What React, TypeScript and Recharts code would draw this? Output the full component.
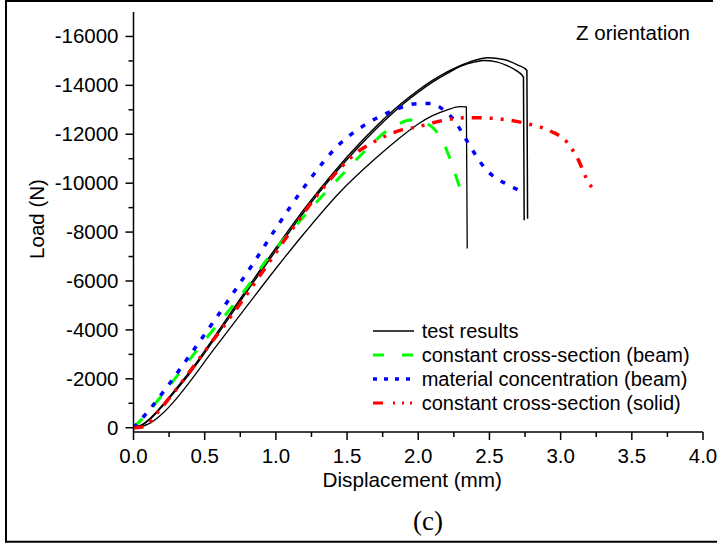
import { LineChart, Line, XAxis, YAxis, Legend, Label } from 'recharts';

// tick positions (majors get labels, the rest are minor ticks)
const xTicks = [0, 0.25, 0.5, 0.75, 1, 1.25, 1.5, 1.75, 2, 2.25, 2.5, 2.75, 3, 3.25, 3.5, 3.75, 4];
const yTicks = [0, -1000, -2000, -3000, -4000, -5000, -6000, -7000, -8000, -9000, -10000, -11000, -12000, -13000, -14000, -15000, -16000];

// test results, specimen A (highest peak)
const testAX = [0, 0.05, 0.12, 0.2, 0.3, 0.4, 0.6, 0.8, 1.0, 1.2, 1.4, 1.6, 1.8, 1.9, 2.0, 2.1, 2.2, 2.35, 2.49, 2.6, 2.7, 2.763, 2.768];
const testAY = [0, -90, -400, -900, -1600, -2330, -3990, -5700, -7350, -8950, -10400, -11700, -12850, -13350, -13800, -14200, -14540, -14930, -15130, -15060, -14830, -14610, -8550];

// test results, specimen B
const testBX = [0, 0.05, 0.12, 0.2, 0.3, 0.4, 0.6, 0.8, 1.0, 1.2, 1.4, 1.6, 1.8, 1.9, 2.0, 2.1, 2.2, 2.3, 2.4, 2.46, 2.55, 2.62, 2.7, 2.739, 2.744];
const testBY = [0, -80, -370, -860, -1540, -2260, -3900, -5600, -7240, -8840, -10300, -11600, -12760, -13270, -13720, -14130, -14480, -14790, -14960, -15020, -14960, -14816, -14560, -14340, -8485];

// test results, specimen C (lowest)
const testCX = [0, 0.05, 0.12, 0.2, 0.3, 0.35, 0.56, 0.8, 1.0, 1.217, 1.451, 1.685, 1.85, 2.0, 2.1, 2.2, 2.294, 2.338, 2.344];
const testCY = [0, -40, -200, -560, -1180, -1540, -3170, -5000, -6510, -8076, -9640, -10936, -11760, -12420, -12760, -12990, -13130, -13120, -7330];

// constant cross-section (beam)
const beamX = [0, 0.05, 0.21, 0.35, 0.5, 0.655, 0.8, 0.94, 1.1, 1.29, 1.45, 1.64, 1.78, 1.86, 1.95, 2.02, 2.09, 2.154, 2.19, 2.247, 2.306, 2.32];
const beamY = [0, -300, -1400, -2450, -3580, -4680, -5760, -6900, -8000, -9250, -10250, -11400, -12150, -12420, -12580, -12500, -12330, -11890, -11480, -10600, -9580, -9370];

// material concentration (beam)
const concX = [0, 0.1, 0.233, 0.4, 0.54, 0.7, 0.85, 1.0, 1.217, 1.451, 1.639, 1.826, 1.99, 2.084, 2.166, 2.247, 2.306, 2.353, 2.412, 2.47, 2.54, 2.623, 2.716];
const concY = [0, -650, -1650, -3000, -4150, -5500, -6800, -8150, -9984, -11618, -12435, -12978, -13250, -13260, -13050, -12610, -12090, -11618, -11070, -10597, -10230, -9955, -9682];

// constant cross-section (solid)
const solidX = [0, 0.06, 0.1, 0.16, 0.28, 0.5, 0.725, 0.912, 1.098, 1.31, 1.59, 1.709, 1.873, 1.99, 2.177, 2.342, 2.482, 2.646, 2.763, 2.927, 3.044, 3.114, 3.208, 3.225];
const solidY = [0, -30, -150, -560, -1420, -3120, -4880, -6420, -7980, -9650, -11345, -11753, -12161, -12296, -12570, -12680, -12664, -12570, -12435, -12133, -11683, -11070, -9914, -9800];

const legendItems = [
  { name: 'test results', color: '#000000', width: 1.5, dash: undefined },
  { name: 'constant cross-section (beam)', color: '#00ff00', width: 3, dash: '11 18' },
  { name: 'material concentration (beam)', color: '#0000ff', width: 3.5, dash: '4 7' },
  { name: 'constant cross-section (solid)', color: '#ff0000', width: 3, dash: '10 10 2 7 2 6 2 10' },
];

const toPoints = (xs: number[], ys: number[]) => xs.map((x, i) => ({ x, y: ys[i] }));

const font = '"Liberation Sans", Arial, sans-serif';
const isMajorX = (v: number) => Math.abs(v * 2 - Math.round(v * 2)) < 1e-6;
const isMajorY = (v: number) => v % 2000 === 0;

const BottomTick = ({ x, y, payload }: any) => {
  const major = isMajorX(payload.value);
  return (
    <g>
      <line x1={x} x2={x} y1={y} y2={y + (major ? 8 : 5)} stroke="#000" strokeWidth={1.5} />
      {major && (
        <text x={x} y={y + 31} textAnchor="middle" fontFamily={font} fontSize={20.5} fill="#000">
          {payload.value.toFixed(1)}
        </text>
      )}
    </g>
  );
};

const LeftTick = ({ x, y, payload }: any) => {
  const major = isMajorY(payload.value);
  return (
    <g>
      <line x1={x} x2={x - (major ? 8 : 5)} y1={y} y2={y} stroke="#000" strokeWidth={1.5} />
      {major && (
        <text x={x - 15} y={y + 7} textAnchor="end" fontFamily={font} fontSize={20.5} fill="#000">
          {payload.value}
        </text>
      )}
    </g>
  );
};

const TopTick = ({ x, y, payload }: any) => (
  <line x1={x} x2={x} y1={y} y2={y + (isMajorX(payload.value) ? 5 : 3)} stroke="#000" strokeWidth={1.5} />
);

const RightTick = ({ x, y, payload }: any) => (
  <line x1={x} x2={x - (isMajorY(payload.value) ? 5 : 3)} y1={y} y2={y} stroke="#000" strokeWidth={1.5} />
);

const XTitle = ({ viewBox }: any) => (
  <text x={viewBox.x + viewBox.width / 2 - 6} y={viewBox.y + 55} textAnchor="middle" fontFamily={font} fontSize={20.7} fill="#000">
    Displacement (mm)
  </text>
);

const YTitle = ({ viewBox }: any) => {
  const cx = 44;
  const cy = viewBox.y + viewBox.height / 2 - 3;
  return (
    <text x={cx} y={cy} transform={`rotate(-90, ${cx}, ${cy})`} textAnchor="middle" fontFamily={font} fontSize={20.5} fill="#000">
      Load (N)
    </text>
  );
};

const LegendBox = () => (
  <div style={{ fontFamily: font, fontSize: 20, lineHeight: '24px', color: '#000' }}>
    {legendItems.map((item) => (
      <div key={item.name} style={{ display: 'flex', alignItems: 'center', height: 24, whiteSpace: 'nowrap' }}>
        <svg width={42} height={24} style={{ marginRight: 7, display: 'block' }}>
          <line x1={0} x2={41} y1={12} y2={12} stroke={item.color} strokeWidth={item.width} strokeDasharray={item.dash} />
        </svg>
        <span>{item.name}</span>
      </div>
    ))}
  </div>
);

const axisStyle = { stroke: '#000', strokeWidth: 1.5 };

export default function App() {
  return (
    <div style={{ position: 'absolute', left: 0, top: 0, width: 717, height: 544, background: '#fff' }}>
      <LineChart width={717} height={544} margin={{ top: 12, right: 14, bottom: 72, left: 0 }}>
        <XAxis
          type="number"
          dataKey="x"
          domain={[0, 4]}
          ticks={xTicks}
          allowDataOverflow
          height={40}
          axisLine={axisStyle}
          tickLine={false}
          tickSize={0}
          tickMargin={0}
          tick={<BottomTick />}
          interval={0}
        >
          <Label content={<XTitle />} />
        </XAxis>
        <XAxis
          xAxisId="top"
          orientation="top"
          type="number"
          domain={[0, 4]}
          ticks={xTicks}
          allowDataOverflow
          height={0}
          axisLine={axisStyle}
          tickLine={false}
          tickSize={0}
          tickMargin={0}
          tick={<TopTick />}
          interval={0}
        />
        <YAxis
          type="number"
          dataKey="y"
          domain={[-17000, 175]}
          reversed
          ticks={yTicks}
          allowDataOverflow
          width={133.5}
          axisLine={axisStyle}
          tickLine={false}
          tickSize={0}
          tickMargin={0}
          tick={<LeftTick />}
          interval={0}
        >
          <Label content={<YTitle />} />
        </YAxis>
        <YAxis
          yAxisId="right"
          orientation="right"
          type="number"
          domain={[-17000, 175]}
          reversed
          ticks={yTicks}
          allowDataOverflow
          width={0}
          axisLine={axisStyle}
          tickLine={false}
          tickSize={0}
          tickMargin={0}
          tick={<RightTick />}
          interval={0}
        />
        <Legend
          content={<LegendBox />}
          layout="vertical"
          align="center"
          verticalAlign="middle"
          wrapperStyle={{ left: 372.7, top: 318.7, width: 340 }}
        />
        <Line data={toPoints(testAX, testAY)} dataKey="y" name="test results" type="monotone" stroke="#000" strokeWidth={1.5} dot={false} isAnimationActive={false} />
        <Line data={toPoints(testBX, testBY)} dataKey="y" name="test B" legendType="none" type="monotone" stroke="#000" strokeWidth={1.5} dot={false} isAnimationActive={false} />
        <Line data={toPoints(testCX, testCY)} dataKey="y" name="test C" legendType="none" type="monotone" stroke="#000" strokeWidth={1.3} dot={false} isAnimationActive={false} />
        <Line data={toPoints(beamX, beamY)} dataKey="y" name="constant cross-section (beam)" type="monotone" stroke="#00ff00" strokeWidth={3} strokeDasharray="13 16" dot={false} isAnimationActive={false} />
        <Line data={toPoints(concX, concY)} dataKey="y" name="material concentration (beam)" type="monotone" stroke="#0000ff" strokeWidth={3.5} strokeDasharray="5 9" dot={false} isAnimationActive={false} />
        <Line data={toPoints(solidX, solidY)} dataKey="y" name="constant cross-section (solid)" type="monotone" stroke="#ff0000" strokeWidth={3.5} strokeDasharray="10 8 3 8 3 8" dot={false} isAnimationActive={false} />
      </LineChart>
      <svg width={717} height={544} style={{ position: 'absolute', left: 0, top: 0, pointerEvents: 'none' }}>
        <line x1={6} x2={713} y1={1} y2={1} stroke="#000" strokeWidth={2} />
        <line x1={6} x2={6} y1={0} y2={542.5} stroke="#000" strokeWidth={2} />
        <line x1={5} x2={717} y1={541.7} y2={541.7} stroke="#000" strokeWidth={2} />
        <text x={690} y={40} textAnchor="end" fontFamily={font} fontSize={20.5} fill="#000">
          Z orientation
        </text>
        <text x={428} y={530} textAnchor="middle" fontFamily='"Liberation Serif", "Times New Roman", serif' fontSize={27} fill="#000">
          (c)
        </text>
      </svg>
    </div>
  );
}
